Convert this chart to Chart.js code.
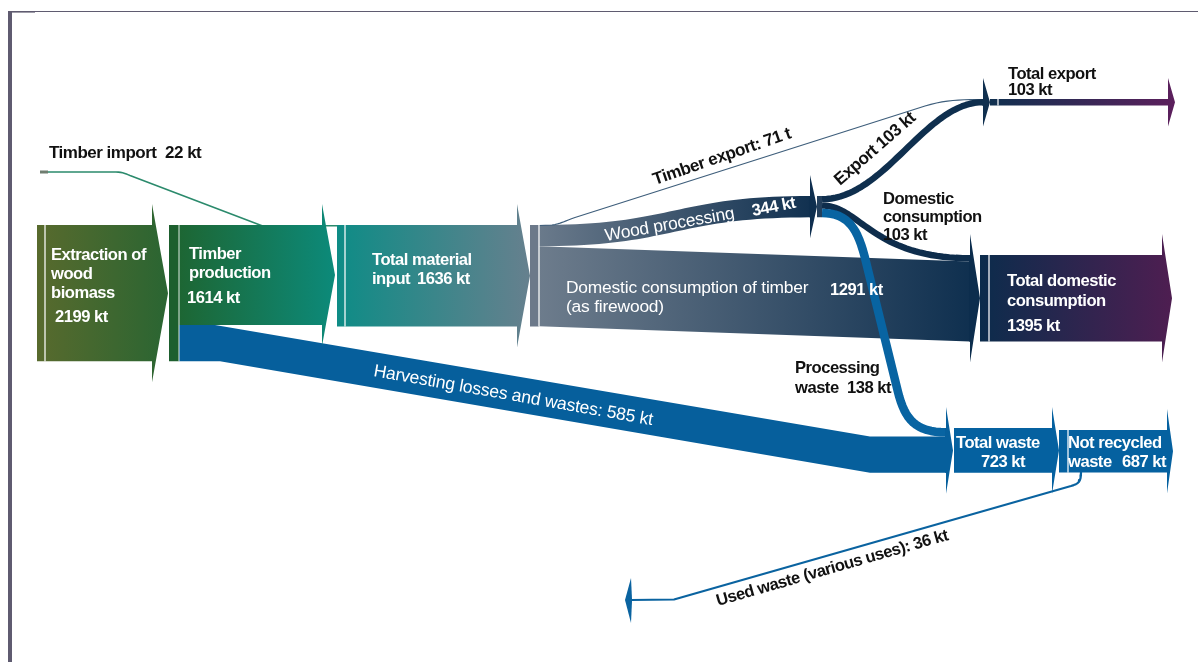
<!DOCTYPE html>
<html>
<head>
<meta charset="utf-8">
<script src="https://cdn.jsdelivr.net/npm/chart.js@4.4.1/dist/chart.umd.min.js"></script>
<style>
  html, body { margin: 0; background: #fff; }
  #wrap { width: 1198px; height: 662px; position: relative; }
</style>
</head>
<body>
<div id="wrap"><canvas id="wood-flows"></canvas></div>
<script>
// Wood flows, kt per year
const nodeNames = ['Extraction of\nwood\nbiomass', 'Timber\nproduction', 'Total material\ninput', 'Total domestic\nconsumption', 'Total export', 'Total waste', 'Not recycled\nwaste'];
const nodeValues = [2199, 1614, 1636, 1395, 103, 723, 687];

const flowNames = ['Timber import', 'Harvesting losses and wastes', 'Wood processing', 'Domestic consumption of timber\n(as firewood)', 'Timber export', 'Export', 'Domestic\nconsumption', 'Processing\nwaste', 'Used waste (various uses)'];
const flowValues = [22, 585, 344, 1291, 0.071, 103, 103, 138, 36];

const KT = 0.062;     // drawing units per kt
const SPIKE = 21;     // arrow barbs stick out this far past the band
const w = v => v * KT;

const FONT = '"Liberation Sans", Arial, sans-serif';

function cubic(p0, p1, p2, p3, n = 40) {
  const out = [];
  for (let i = 0; i <= n; i++) {
    const t = i / n, u = 1 - t;
    const a = u * u * u, b = 3 * u * u * t, c = 3 * u * t * t, d = t * t * t;
    out.push({ x: a * p0[0] + b * p1[0] + c * p2[0] + d * p3[0], y: a * p0[1] + b * p1[1] + c * p2[1] + d * p3[1] });
  }
  return out;
}
const sCurve = (x0, y0, x1, y1, n) => {
  const m = (x1 - x0) / 2;
  return cubic([x0, y0], [x0 + m, y0], [x1 - m, y1], [x1, y1], n);
};
const pts = list => list.map(([x, y]) => ({ x, y }));

// block with a barbed arrow on its right end
function arrowBlock(x0, x1, tip, top, value) {
  const bot = top + w(value), mid = top + w(value) / 2;
  return pts([[x0, top], [x1, top], [x1, top - SPIKE], [tip, mid], [x1, bot + SPIKE], [x1, bot], [x0, bot]]);
}

function hGrad(x0, x1, stops) {
  return (ctx) => {
    const chart = ctx.chart;
    if (!chart.chartArea) return stops[0];
    const sx = chart.scales.x;
    const g = chart.ctx.createLinearGradient(sx.getPixelForValue(x0), 0, sx.getPixelForValue(x1), 0);
    stops.forEach((s, i) => g.addColorStop(i / (stops.length - 1), s));
    return g;
  };
}

function bandWidth(chart, value, min) {
  const sy = chart.scales.y;
  if (!sy) return min;
  return Math.max(min, Math.abs(sy.getPixelForValue(w(value)) - sy.getPixelForValue(0)));
}

const layers = [];
function area(data, color) {
  layers.push({ data, fill: 'shape', backgroundColor: color, borderWidth: 0, pointRadius: 0, tension: 0 });
}
function path(data, color, value, min = 1, cap = 'butt') {
  layers.push({
    data, fill: false, borderColor: color, pointRadius: 0, tension: 0,
    borderWidth: (ctx) => bandWidth(ctx.chart, value, min),
    borderCapStyle: cap, borderJoinStyle: 'round'
  });
}
function rule(x, y0, y1, color = 'rgba(255,255,255,0.55)') {
  layers.push({ data: pts([[x, y0], [x, y1]]), fill: false, borderColor: color, borderWidth: 1, pointRadius: 0 });
}

// ---- layout ----
const yTop = 225;
const extr = { x0: 37, x1: 152, tip: 168 };
const prod = { x0: 169, x1: 322, tip: 335 };
const input = { x0: 337, x1: 517, tip: 530 };
const split = { x0: 530, x1: 539 };
const wp = { x1: 810, tip: 817, top: 196 };
const dom = { x1: 970, tip: 980, top: 255 };
const exp = { in: 983, x0: 990, x1: 1168, tip: 1175, top: 99 };
const waste = { in: 946, x0: 954, x1: 1052, tip: 1059, top: 428 };
const notRec = { x0: 1059, x1: 1167, tip: 1173, top: 430 };

const prodBot = yTop + w(nodeValues[1]);
const extrBot = yTop + w(nodeValues[0]);
const wpBot = yTop + w(flowValues[2]);
const inputBot = yTop + w(nodeValues[2]);

// timber import line
path(pts([[40, 172], [48, 172]]), '#6f7d70', 40, 3);
path([...pts([[48, 172], [116, 172]]), ...cubic([116, 172], [121, 172], [124, 173], [130, 175.5], 6),
  ...pts([[262, yTop + 0.7], [337, yTop + 0.7]])], '#2b8a6c', flowValues[0], 1.6);

// harvesting losses band
const hvTopEnd = waste.top + w(flowValues[7]);
area(pts([[prod.x0 + 10, prodBot], [215, prodBot], [870, hvTopEnd], [waste.in, hvTopEnd],
  [waste.in, hvTopEnd + w(flowValues[1])], [870, hvTopEnd + w(flowValues[1])],
  [220, prodBot + w(flowValues[1])], [prod.x0 + 10, prodBot + w(flowValues[1])]]), '#065f9c');

// domestic consumption of timber band
const domBandTop = dom.top + w(flowValues[6]);
area([...pts([[split.x1, wpBot], [dom.x1, domBandTop]]),
  ...pts([[dom.x1, domBandTop + w(flowValues[3])], [split.x1, wpBot + w(flowValues[3])]])],
  hGrad(split.x1, dom.tip, ['#6d7c8c', '#0d2e4e']));

// wood processing band
const wpTopLine = sCurve(split.x1, yTop, wp.x1, wp.top, 40);
const wpBotLine = sCurve(split.x1, wpBot, wp.x1, wp.top + w(flowValues[2]), 40).reverse();
area([...wpTopLine, ...wpBotLine], hGrad(split.x1, wp.tip, ['#6a7a8b', '#0f2f4f']));
area(arrowBlock(wp.x1 - 1, wp.x1, wp.tip, wp.top, flowValues[2]), '#0f2f4f');

// timber export hairline
path([...pts([[split.x1, yTop + 0.5], [552, yTop]]), ...cubic([552, yTop], [560, yTop - 1], [565, 221], [575, 217.5], 8),
  ...pts([[925, 106]]), ...cubic([925, 106], [945, 100], [960, exp.top + 0.5], [exp.in, exp.top + 0.5], 10)],
  '#3e5e7b', flowValues[4], 1.2);

// split after wood processing
const sp = { x0: 817, x1: 822 };
const eMid = wp.top + w(flowValues[5]) / 2;
const dMid = wp.top + w(flowValues[5]) + w(flowValues[6]) / 2;
const pMid = wp.top + w(flowValues[5]) + w(flowValues[6]) + w(flowValues[7]) / 2;

path(cubic([sp.x1, eMid], [885, eMid], [925, exp.top + w(flowValues[5]) / 2], [exp.in, exp.top + w(flowValues[5]) / 2]),
  '#0f2f4e', flowValues[5], 2);
path(cubic([sp.x1, dMid], [860, dMid], [872, dom.top + w(flowValues[6]) / 2], [dom.x1, dom.top + w(flowValues[6]) / 2]),
  '#0e2d4c', flowValues[6], 2);
path([...cubic([sp.x1, pMid], [848, pMid], [858, 228], [866, 262], 16), ...pts([[898, 392]]),
  ...cubic([898, 392], [905, 420], [916, waste.top + w(flowValues[7]) / 2], [waste.in, waste.top + w(flowValues[7]) / 2], 16)],
  '#0864a2', flowValues[7], 2);

// nodes
area(arrowBlock(extr.x0, extr.x1, extr.tip, yTop, nodeValues[0]), hGrad(extr.x0, extr.tip, ['#586a2d', '#2a6532']));
area(pts([[prod.x0, yTop], [prod.x0 + 10, yTop], [prod.x0 + 10, extrBot], [prod.x0, extrBot]]), '#1d5f2e');
area(arrowBlock(prod.x0 + 10, prod.x1, prod.tip, yTop, nodeValues[1]), hGrad(prod.x0 + 10, prod.tip, ['#1d6633', '#0c8a7a']));
area(arrowBlock(input.x0, input.x1, input.tip, yTop, nodeValues[2]), hGrad(input.x0, input.tip, ['#0e8c86', '#66808e']));
area(pts([[split.x0, yTop], [split.x1, yTop], [split.x1, inputBot], [split.x0, inputBot]]), '#6c798a');
area(pts([[sp.x0, wp.top], [sp.x1, wp.top], [sp.x1, wp.top + w(flowValues[2])], [sp.x0, wp.top + w(flowValues[2])]]), '#233f5c');

// arrows where bands reach nodes
area(arrowBlock(dom.x1 - 1, dom.x1, dom.tip, dom.top, nodeValues[3]), '#0c2d4d');
area(arrowBlock(exp.in - 1, exp.in, exp.x0, exp.top, nodeValues[4]), '#10304f');
area(arrowBlock(waste.in - 1, waste.in, waste.x0 - 1, waste.top, nodeValues[5]), '#065f9c');

area(arrowBlock(dom.tip, 1162, 1172, dom.top, nodeValues[3]), hGrad(dom.tip, 1172, ['#0c2c4c', '#4e1e51']));
area(arrowBlock(exp.x0, exp.x1, exp.tip, exp.top, nodeValues[4]), hGrad(exp.x0, exp.tip, ['#10304f', '#5c1f5c']));
area(arrowBlock(waste.x0, waste.x1, waste.tip, waste.top, nodeValues[5]), '#0561a0');
area(arrowBlock(notRec.x0, notRec.x1, notRec.tip, notRec.top, nodeValues[6]), '#0561a0');

// used waste
const uwY = 600;
path([...cubic([1081, notRec.top + w(nodeValues[6]) - 1], [1081, 482], [1079, 483.5], [1071, 486], 8),
  ...pts([[674, uwY - 0.5], [631, uwY]])], '#0a63a0', flowValues[8], 2.2);
area(pts([[632, uwY - 1.1], [631, uwY - 22], [625, uwY], [631, uwY + 23], [632, uwY + 1.1]]), '#0a63a0');

// separator rules inside blocks
rule(extr.x0 + 8, yTop, extrBot);
rule(prod.x0 + 10, yTop, extrBot, 'rgba(255,255,255,0.35)');
rule(input.x0 + 8, yTop, inputBot);
rule(split.x1, yTop, inputBot);
rule(dom.tip + 9, dom.top, dom.top + w(nodeValues[3]));
rule(exp.x0 + 8, exp.top, exp.top + w(nodeValues[4]));
rule(notRec.x0 + 9, notRec.top, notRec.top + w(nodeValues[6]));

// ---- labels ----
const kt = v => `${v} kt`;
const lines = s => s.split('\n');
const labels = [];
function label(text, x, y, opt = {}) { labels.push({ text, x, y, ...opt }); }
function block(text, x, y, lh, opt) { lines(text).forEach((t, i) => label(t, x, y + i * lh, opt)); }

const W = { color: '#ffffff', bold: true };
const B = { color: '#111111', bold: true };
const plain = { color: '#ffffff', bold: false, size: 17.4 };

label(flowNames[0], 49, 158, { ...B, size: 17 });
label(kt(flowValues[0]), 165, 158, { ...B, size: 17 });

block(nodeNames[0], 51, 260, 19, W);
label(kt(nodeValues[0]), 55, 322, W);
block(nodeNames[1], 189, 259, 19, W);
label(kt(nodeValues[1]), 187, 303, W);
block(nodeNames[2], 372, 265, 19, W);
label(kt(nodeValues[2]), 417, 284, W);

block(flowNames[3], 566, 293, 19, plain);
label(kt(flowValues[3]), 830, 295, W);

label(flowNames[2], 606, 241, { ...plain, angle: -10 });
label(kt(flowValues[2]), 753, 216, { ...W, angle: -11 });

label(`${flowNames[4]}: ${Math.round(flowValues[4] * 1000)} t`, 655, 185, { ...B, size: 17.2, angle: -19 });
label(`${flowNames[5]} ${kt(flowValues[5])}`, 840, 186, { ...B, size: 17.2, angle: -41 });
block(`${flowNames[6]}\n${kt(flowValues[6])}`, 883, 204, 18, B);

block(nodeNames[4], 1008, 79, 17, B);
label(kt(nodeValues[4]), 1008, 95, B);
block(nodeNames[3], 1007, 286, 19.5, W);
label(kt(nodeValues[3]), 1007, 331, W);

block(flowNames[7], 795, 373, 20, B);
label(kt(flowValues[7]), 847, 393, B);

label(nodeNames[5], 956, 448, W);
label(kt(nodeValues[5]), 981, 467, W);
block(nodeNames[6], 1068, 448, 19, W);
label(kt(nodeValues[6]), 1122, 467, W);

label(`${flowNames[1]}: ${kt(flowValues[1])}`, 373, 376, { ...plain, size: 17.6, angle: 10 });
label(`${flowNames[8]}: ${kt(flowValues[8])}`, 718, 606, { ...B, angle: -16 });

const flowText = {
  id: 'flowText',
  afterDatasetsDraw(chart) {
    const { ctx, scales: { x, y } } = chart;
    for (const l of labels) {
      ctx.save();
      ctx.translate(x.getPixelForValue(l.x), y.getPixelForValue(l.y));
      ctx.rotate((l.angle || 0) * Math.PI / 180);
      ctx.font = `${l.bold ? 'bold ' : ''}${l.size || 16.6}px ${FONT}`;
      ctx.letterSpacing = l.bold ? '-0.5px' : '-0.2px';
      ctx.fillStyle = l.color;
      ctx.textBaseline = 'alphabetic';
      ctx.fillText(l.text, 0, 0);
      ctx.restore();
    }
  }
};

// page frame: heavy rule on the left, thin one along the top
const frame = {
  id: 'frame',
  beforeDatasetsDraw(chart) {
    const { ctx, scales: { x, y } } = chart;
    ctx.save();
    ctx.fillStyle = '#5f5b70';
    ctx.fillRect(x.getPixelForValue(8), y.getPixelForValue(11), 4, y.getPixelForValue(662) - y.getPixelForValue(11));
    ctx.fillRect(x.getPixelForValue(12), y.getPixelForValue(11), x.getPixelForValue(1198) - x.getPixelForValue(12), 1);
    ctx.fillRect(x.getPixelForValue(12), y.getPixelForValue(11), x.getPixelForValue(35) - x.getPixelForValue(12), 1.6);
    ctx.restore();
  }
};

new Chart(document.getElementById('wood-flows'), {
  type: 'line',
  data: { datasets: layers.slice().reverse() },
  options: {
    responsive: true,
    maintainAspectRatio: false,
    animation: false,
    events: [],
    layout: { padding: 0 },
    scales: {
      x: { type: 'linear', min: 0, max: 1198, display: false },
      y: { type: 'linear', min: 0, max: 662, reverse: true, display: false }
    },
    plugins: { legend: { display: false }, tooltip: { enabled: false } }
  },
  plugins: [frame, flowText]
});
</script>
</body>
</html>
